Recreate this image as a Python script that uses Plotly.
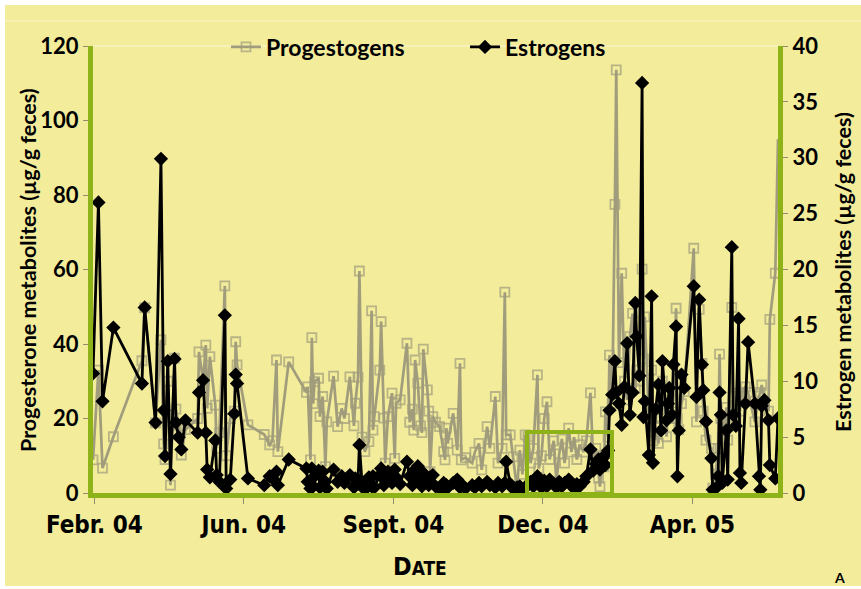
import datetime as dt
import plotly.graph_objects as go

# ---------------- data ----------------
start_date = dt.date(2004, 1, 31)
# sampling day (days since start_date)
days = [0, 4, 7, 15, 36, 38, 46, 50, 52, 53, 55, 57, 60, 61, 63, 65, 68, 77, 78, 81,
        83, 84, 86, 90, 91, 93, 97, 98, 101, 104, 105, 106, 114, 126, 130, 132, 135, 136, 144, 157,
        158, 160, 161, 162, 163, 166, 167, 169, 171, 172, 177, 180, 183, 185, 189, 192, 193, 195, 196, 198,
        200, 203, 205, 206, 207, 211, 212, 214, 215, 217, 220, 222, 223, 226, 231, 233, 235, 236, 237, 239,
        241, 242, 243, 246, 247, 248, 250, 252, 255, 258, 259, 260, 261, 265, 268, 270, 271, 274, 279, 281,
        284, 286, 290, 292, 296, 298, 301, 303, 304, 307, 309, 312, 314, 316, 318, 320, 322, 324, 327, 328,
        330, 332, 334, 336, 339, 341, 343, 345, 347, 350, 352, 354, 356, 358, 361, 363, 366, 368, 370, 372,
        373, 375, 376, 377, 379, 380, 382, 384, 385, 387, 389, 391, 393, 395, 397, 399, 400, 402, 404, 405,
        406, 409, 411, 412, 414, 416, 418, 419, 422, 423, 424, 426, 427, 429, 430, 431, 433, 435, 442, 444,
        446, 448, 449, 451, 455, 456, 458, 460, 461, 462, 463, 466, 467, 470, 471, 473, 475, 476, 477, 480,
        482, 487, 490, 491, 492, 494, 497, 498, 502, 504]

progestogens = [8.9, 33.0, 6.7, 15.1, 35.5, 49.7, 18.8, 41.1, 13.2, 9.0, 30.0, 2.1, 36.2, 22.5, 18.0, 10.2, 17.0, 20.0, 37.9, 30.0,
                39.7, 22.7, 36.6, 23.6, 12.0, 16.2, 55.6, 10.0, 20.0, 22.0, 40.6, 34.4, 18.3, 15.7, 12.9, 14.0, 35.7, 11.1, 35.2, 27.0,
                28.5, 8.9, 41.7, 24.0, 29.9, 30.8, 20.5, 25.9, 7.1, 19.1, 31.4, 17.8, 22.7, 20.0, 31.2, 18.0, 24.1, 31.1, 59.6, 15.0,
                11.1, 13.8, 48.9, 16.9, 20.5, 33.0, 46.0, 20.1, 8.0, 20.5, 26.8, 9.3, 24.1, 25.0, 40.2, 19.0, 22.5, 16.9, 35.7, 29.5,
                18.0, 16.2, 38.6, 27.7, 22.0, 5.7, 20.5, 19.0, 17.8, 11.1, 8.9, 17.4, 13.3, 21.4, 11.5, 34.8, 8.9, 9.5, 8.0, 11.0,
                13.3, 6.2, 17.8, 12.0, 25.9, 8.0, 12.0, 53.9, 15.6, 15.6, 9.7, 1.0, 11.5, 5.0, 15.6, 15.1, 8.0, 12.0, 31.7, 6.6,
                10.0, 20.0, 24.5, 9.0, 14.0, 3.0, 10.5, 14.5, 8.0, 17.4, 11.0, 15.0, 9.0, 13.0, 11.0, 14.0, 26.9, 9.0, 12.0, 4.0,
                1.7, 10.0, 7.0, 21.8, 15.0, 37.0, 24.0, 77.5, 113.6, 35.0, 59.0, 30.0, 25.0, 42.0, 48.2, 28.0, 33.0, 30.0, 60.1, 36.0,
                47.3, 20.0, 33.0, 14.0, 18.0, 13.3, 20.0, 30.0, 15.1, 24.0, 20.0, 21.8, 25.0, 49.6, 20.0, 17.0, 24.0, 27.2, 65.7, 19.1,
                49.3, 34.8, 22.0, 14.2, 12.0, 1.3, 5.0, 12.0, 37.3, 20.0, 15.0, 23.0, 14.2, 49.8, 26.0, 20.0, 26.8, 22.0, 27.0, 28.5,
                27.0, 19.1, 26.0, 27.0, 29.0, 24.0, 22.0, 46.6, 59.0, 95.0]

estrogens = [10.7, 26.0, 8.2, 14.8, 9.8, 16.6, 6.3, 29.9, 7.4, 3.3, 11.8, 1.7, 12.0, 6.3, 5.0, 3.9, 6.5, 5.4, 9.0, 10.1,
             5.4, 2.1, 1.4, 4.7, 1.6, 1.0, 15.9, 0.4, 1.2, 7.1, 10.6, 9.8, 1.3, 0.7, 1.5, 1.3, 1.9, 0.7, 3.0, 2.2,
             1.0, 0.4, 2.2, 0.6, 1.5, 2.0, 0.5, 1.9, 1.0, 0.4, 2.1, 1.0, 1.5, 0.9, 1.6, 0.5, 1.3, 1.2, 4.3, 0.8,
             0.3, 1.4, 0.6, 1.5, 0.5, 1.6, 2.2, 0.7, 1.2, 1.9, 0.9, 2.1, 1.4, 0.8, 2.8, 1.5, 0.7, 2.0, 1.1, 2.4,
             1.6, 0.6, 1.8, 1.0, 0.7, 1.4, 1.6, 0.6, 0.4, 0.9, 0.3, 0.7, 0.5, 0.9, 1.2, 0.5, 0.8, 0.4, 0.7, 0.5,
             0.9, 0.6, 1.0, 0.7, 0.5, 0.9, 0.6, 0.9, 2.8, 0.8, 0.4, 0.5, 0.6, 0.3, 0.5, 0.7, 1.0, 0.6, 1.5, 1.3,
             0.5, 1.1, 0.6, 1.2, 0.8, 0.5, 1.0, 0.6, 0.9, 1.2, 0.7, 0.4, 0.8, 0.6, 1.0, 1.5, 3.9, 2.0, 2.6, 3.0,
             2.1, 3.1, 3.3, 2.5, 3.8, 7.4, 8.8, 11.8, 9.0, 8.0, 6.1, 9.5, 13.4, 7.0, 9.0, 17.0, 14.0, 10.5, 36.7, 6.8,
             8.2, 3.4, 17.6, 2.7, 7.5, 9.7, 5.6, 11.8, 6.5, 8.0, 9.4, 7.0, 11.5, 14.9, 1.5, 5.6, 10.6, 9.4, 18.5, 8.6,
             17.3, 11.5, 9.2, 6.4, 3.1, 0.3, 0.4, 1.5, 9.0, 7.0, 0.9, 5.6, 1.2, 22.0, 7.0, 6.0, 15.6, 1.8, 0.9, 8.0,
             13.5, 8.0, 1.5, 0.3, 7.8, 8.3, 6.5, 2.5, 1.3, 6.7]

tick_days = [1, 111, 221, 331, 441]
tick_labels = ["Febr. 04", "Jun. 04", "Sept. 04", "Dec. 04", "Apr. 05"]
axis_days = [0, 504]

# ---------------- styling ----------------
W, H = 861, 589
L, R, T, B = 93, 778, 46, 493
GREEN = "#8DB318"
YELLOW = "#F2EC9B"
GREY = "#A19D7C"
TICK = "#8F8C70"
FONT = "Lato, 'Open Sans', sans-serif"
NARROW = "'Liberation Sans Narrow', 'DejaVu Sans Condensed', 'Roboto Condensed', sans-serif"


def d(n):
    return start_date + dt.timedelta(days=n)


dates = [d(n) for n in days]


def px(xp):
    return (xp - L) / (R - L)


def py(yp):
    return (B - yp) / (B - T)


# last progestogen sample sits on the right axis; its marker is hidden there
prog_sizes = [9] * (len(days) - 1) + [0]

fig = go.Figure()
fig.add_trace(go.Scatter(
    x=dates, y=progestogens, name="Progestogens", mode="lines+markers",
    line=dict(color=GREY, width=2.7),
    marker=dict(symbol="square-open", size=prog_sizes, color=GREY, line=dict(width=1.8, color=GREY)),
    yaxis="y"))
fig.add_trace(go.Scatter(
    x=dates, y=estrogens, name="Estrogens", mode="lines+markers",
    line=dict(color="black", width=2.8),
    marker=dict(symbol="diamond", size=11, color="black"),
    yaxis="y2"))

axis_common = dict(showline=True, linecolor=GREEN, linewidth=5, ticks="outside",
                   tickcolor=TICK, tickwidth=1, showgrid=False, zeroline=False)

fig.update_layout(
    width=W, height=H,
    margin=dict(l=L, r=W - R, t=T, b=H - B, pad=0),
    paper_bgcolor="white", plot_bgcolor="rgba(0,0,0,0)",
    showlegend=True,
    legend=dict(orientation="h", x=px(226), xanchor="left", y=py(47), yanchor="middle",
                bgcolor="rgba(0,0,0,0)", font=dict(family=FONT, size=23, color="black", weight="bold"),
                entrywidth=194, itemwidth=30),
    xaxis=dict(type="date", range=[d(axis_days[0]), d(axis_days[1])],
               tickvals=[d(n) for n in tick_days], ticktext=tick_labels, ticklen=6,
               tickfont=dict(family=NARROW, size=24, color="black", weight="bold"),
               **axis_common),
    yaxis=dict(range=[0, 120], tickvals=[0, 20, 40, 60, 80, 100, 120], ticklen=5,
               tickfont=dict(family=FONT, size=22, color="black", weight="bold"),
               **axis_common),
    yaxis2=dict(range=[0, 40], tickvals=[0, 5, 10, 15, 20, 25, 30, 35, 40], ticklen=5,
                overlaying="y", side="right",
                tickfont=dict(family=FONT, size=22, color="black", weight="bold"),
                **axis_common),
    shapes=[
        dict(type="rect", xref="paper", yref="paper", layer="below",
             x0=px(5), x1=px(861), y0=py(586), y1=py(5), fillcolor=YELLOW, line=dict(width=0)),
        dict(type="line", xref="paper", yref="paper", layer="below",
             x0=px(5), x1=px(861), y0=py(21), y1=py(21), line=dict(color="rgba(255,255,255,0.45)", width=1)),
        dict(type="line", xref="paper", yref="paper", layer="below",
             x0=0, x1=1, y0=1, y1=1, line=dict(color="rgba(255,255,255,0.6)", width=1)),
        dict(type="rect", xref="paper", yref="paper", layer="above",
             x0=px(527), x1=px(612), y0=py(494), y1=py(432), line=dict(color=GREEN, width=4)),
    ],
    annotations=[
        dict(text="Progesterone metabolites (µg/g feces)", xref="paper", yref="paper",
             x=px(28), y=py(270), textangle=-90, showarrow=False, xanchor="center", yanchor="middle",
             font=dict(family=FONT, size=21.5, color="black", weight="bold")),
        dict(text="Estrogen metabolites (µg/g feces)", xref="paper", yref="paper",
             x=px(843), y=py(272), textangle=-90, showarrow=False, xanchor="center", yanchor="middle",
             font=dict(family=FONT, size=21.5, color="black", weight="bold")),
        dict(text="<span style='font-size:25px'>D</span><span style='font-size:19px'>ATE</span>",
             xref="paper", yref="paper", x=px(420), y=py(566), showarrow=False,
             xanchor="center", yanchor="middle",
             font=dict(family=NARROW, size=19, color="black", weight="bold")),
        dict(text="A", xref="paper", yref="paper", x=px(839), y=py(577), showarrow=False,
             xanchor="center", yanchor="middle",
             font=dict(family=FONT, size=14, color="black", weight="bold")),
    ],
)

fig.write_html("out.html", config={"displayModeBar": False},
               post_script="document.body.style.margin='0';document.body.style.overflow='hidden';")
